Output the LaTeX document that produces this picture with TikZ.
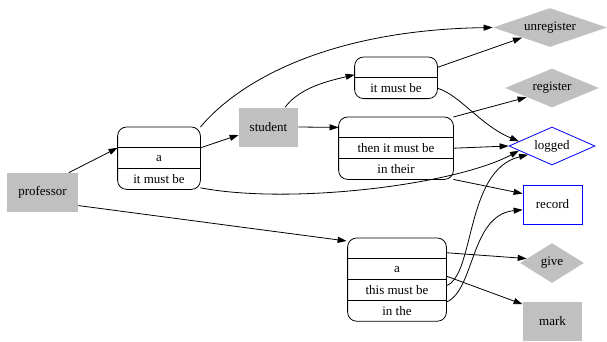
\documentclass[tikz,border=0pt]{standalone}
\usepackage{fontspec}
\setmainfont{Liberation Serif}
\usepackage{xcolor}
\usepackage{tikz}
\usetikzlibrary{shapes,arrows.meta,positioning,calc}

\definecolor{nodegray}{RGB}{192,192,192}
\tikzset{
  grect/.style={fill=nodegray, minimum width=59pt, minimum height=39pt, inner sep=0pt},
  gdiam/.style={diamond, shape aspect=3, fill=nodegray, inner sep=0pt},
  row/.style={minimum width=#1, minimum height=20pt, inner sep=0pt},
  link/.style={-{Triangle[length=9pt,width=6pt]}, line width=0.8pt},
}

\begin{document}
\begin{tikzpicture}[x=1pt, y=-1pt, font=\fontsize{13}{15}\selectfont, line width=0.8pt]
  \useasboundingbox (0,0) rectangle (607,341);
  % plain nodes
  \node[grect, minimum width=71pt] (professor) at (42.5,192.5) {professor};
  \node[grect] (student) at (268.5,127) {student};
  \node[gdiam, minimum width=114pt, minimum height=39pt] (unregister) at (550,27.5) {unregister};
  \node[gdiam, minimum width=94pt, minimum height=39pt] (register) at (552,88) {register};
  \node[diamond, shape aspect=3, draw=blue, inner sep=0pt, minimum width=86pt, minimum height=38pt] (logged) at (552,146) {logged};
  \node[draw=blue, minimum width=59pt, minimum height=39pt, inner sep=0pt] (record) at (552.5,204.5) {record};
  \node[gdiam, minimum width=64pt, minimum height=40pt] (give) at (552,263) {give};
  \node[grect] (mark) at (552.5,321.5) {mark};

  % record boxes, one row under the other
  \node[row=82pt, anchor=north] (r1a) at (159,127) {};
  \node[row=82pt, below=0pt of r1a] (r1b) {a};
  \node[row=82pt, below=0pt of r1b] (r1c) {it must be};

  \node[row=82pt, anchor=north] (r2a) at (396,57) {};
  \node[row=82pt, below=0pt of r2a] (r2b) {it must be};

  \node[row=114pt, anchor=north] (r3a) at (396,117) {};
  \node[row=114pt, below=0pt of r3a] (r3b) {then it must be};
  \node[row=114pt, below=0pt of r3b] (r3c) {in their};

  \node[row=98pt, anchor=north] (r4a) at (397,238) {};
  \node[row=98pt, below=0pt of r4a] (r4b) {a};
  \node[row=98pt, below=0pt of r4b] (r4c) {this must be};
  \node[row=98pt, below=0pt of r4c] (r4d) {in the};

  \draw[rounded corners=9pt] (r1a.north west) rectangle (r1c.south east);
  \draw[rounded corners=9pt] (r2a.north west) rectangle (r2b.south east);
  \draw[rounded corners=9pt] (r3a.north west) rectangle (r3c.south east);
  \draw[rounded corners=9pt] (r4a.north west) rectangle (r4d.south east);
  \foreach \r in {r1b,r1c,r2b,r3b,r3c,r4b,r4c,r4d}
    \draw (\r.north west) -- (\r.north east);

  % connectors
  \draw[link] (professor.37) -- (r1b.north west);
  \draw[link] (professor.-20) -- ($(r4a.north west)+(-1,3)$);
  \draw[link] (r1b.north east) -- (student.-165);
  \draw[link] (r1a.north east) .. controls (240,80) and (330,30) .. (unregister.west);
  \draw[link] (r1c.-12) .. controls (290,205) and (455,185) .. (logged.-172);
  \draw[link] (student.50) .. controls +(15,-20) and +(-25,6) .. (r2a.-170);
  \draw[link] (student.east) -- (r3a.west);
  \draw[link] (r2a.east) -- (unregister.-160);
  \draw[link] (r2b.east) .. controls (460,95) and (480,125) .. (logged.172);
  \draw[link] (r3a.north east) -- (register.-160);
  \draw[link] (r3b.east) -- (logged.west);
  \draw[link] (r3c.south east) -- (record.160);
  \draw[link] (r4a.-5) -- (give.170);
  \draw[link] (r4b.-8) -- (mark.150);
  \draw[link] (r4c.5) .. controls (475,275) and (465,170) .. (logged.-160);
  \draw[link] (r4d.10) .. controls (475,290) and (470,215) .. (record.-170);
\end{tikzpicture}
\end{document}
